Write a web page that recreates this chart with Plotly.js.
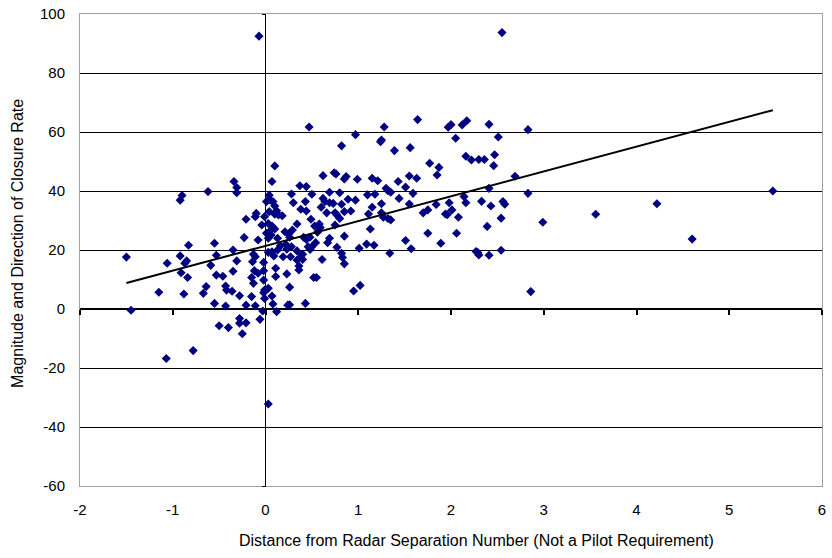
<!DOCTYPE html>
<html>
<head>
<meta charset="utf-8">
<script src="https://cdn.plot.ly/plotly-3.0.1.min.js"></script>
<style>html,body{margin:0;padding:0;background:#fff;}#chart{width:832px;height:558px;}</style>
</head>
<body>
<div id="chart"></div>
<script>
// Distance from radar separation number (x) and closure rate (y)
const distX = [
-1.50,-1.45,-1.07,-0.78,-1.15,-1.06,-0.92,-0.90,-0.92,-0.83,-0.85,-0.87,-0.91,-0.84,-0.88,
-0.62,-0.55,-0.53,-0.59,-0.53,-0.64,-0.67,-0.55,-0.50,-0.46,-0.43,-0.42,-0.43,-0.40,-0.36,
-0.35,-0.35,-0.31,-0.34,-0.31,-0.31,-0.23,-0.21,-0.28,-0.28,-0.28,-0.21,-0.25,-0.21,-0.15,
-0.13,-0.15,-0.11,-0.06,-0.03,-0.10,-0.11,-0.08,-0.13,-0.11,-0.14,-0.12,-0.08,-0.02,-0.02,
-0.02,-0.01,-0.01,-0.07,-0.02,-0.01,-0.04,
0.10,0.07,0.04,0.05,0.01,0.08,0.10,0.12,0.04,0.10,0.14,0.18,0.03,0.07,0.10,0.04,0.01,0.06,
0.13,0.03,0.21,0.25,0.26,0.29,0.34,0.28,0.30,0.37,0.44,0.43,0.50,0.38,0.44,0.49,0.62,0.74,
0.76,0.85,0.87,0.62,0.64,0.69,0.60,0.66,0.73,0.75,0.80,0.82,0.77,0.85,0.89,0.80,0.53,0.59,
0.56,0.48,0.44,0.41,0.54,0.50,0.46,0.48,0.69,0.67,0.75,0.77,0.85,0.82,0.83,0.85,0.61,0.22,
0.28,0.23,0.16,0.13,0.07,0.03,0.09,0.19,0.27,0.34,0.34,0.38,0.40,0.36,0.36,0.40,0.52,0.55,
0.11,0.03,0.07,0.11,0.23,0.26,0.08,0.12,0.24,0.26,0.43,0.03,0.47,0.97,1.28,1.64,1.97,2.00,
2.05,2.12,0.82,1.24,1.25,1.39,1.56,1.77,1.87,1.85,0.99,1.15,1.21,1.43,1.55,1.63,1.51,1.59,
1.30,1.32,1.35,1.44,1.55,1.10,1.18,1.25,1.15,0.97,0.69,0.92,0.58,0.95,1.02,1.01,1.09,1.17,
1.13,1.11,1.25,1.27,1.32,1.35,1.34,1.51,1.57,1.75,1.70,1.75,1.84,1.89,1.94,1.96,2.01,2.08,
2.06,2.17,2.41,2.83,2.51,2.16,2.22,2.30,2.36,2.47,2.46,2.69,2.41,2.83,1.98,2.14,2.16,2.33,
2.43,2.56,2.58,2.54,2.39,2.27,2.29,2.30,2.41,2.54,2.99,2.86,3.56,4.22,4.60,5.47,2.55
];
const closureY = [
17.6,-0.4,-16.8,-14.1,5.7,15.5,36.9,38.5,18.0,21.6,16.3,15.5,12.3,10.7,5.1,
39.8,22.3,18.2,14.8,11.5,7.6,5.3,1.9,-5.7,11.1,7.8,6.4,1.0,-6.3,6.0,
12.8,20.0,16.3,43.2,41.2,39.4,24.2,30.4,4.5,-3.2,-4.8,-4.7,-8.4,1.3,10.7,
8.7,4.2,1.1,-3.5,-0.7,32.4,31.3,23.4,18.6,17.7,16.0,13.0,12.1,15.8,13.0,
5.5,3.6,31.3,92.5,9.8,6.4,28.5,
48.5,43.2,38.6,36.9,36.4,36.4,34.9,33.3,33.0,32.1,31.9,31.6,29.0,28.1,27.1,26.2,25.7,25.1,
24.0,24.0,26.2,25.4,24.3,26.8,28.8,39.0,36.0,41.8,41.5,36.4,38.9,33.8,33.2,30.4,45.2,46.2,
45.8,44.1,44.9,37.5,36.4,36.0,34.5,32.6,35.8,32.6,39.4,35.5,31.9,33.0,37.2,30.7,28.1,27.6,
26.0,24.3,23.6,24.3,22.5,21.1,21.1,20.2,24.0,22.5,28.5,20.9,24.7,18.9,17.5,15.3,16.8,21.9,
21.1,20.3,21.4,20.0,19.4,19.2,18.0,17.7,17.7,19.7,16.6,17.7,18.6,14.6,13.2,16.8,10.7,10.7,
13.8,7.0,4.4,11.0,11.9,7.4,1.7,-0.9,1.3,1.4,1.9,-32.2,61.7,59.1,61.7,64.2,61.6,62.5,
57.9,62.4,55.3,56.7,57.3,53.7,54.7,49.4,48.0,45.4,44.0,44.3,43.5,43.2,45.1,44.3,41.3,39.2,
40.9,40.1,39.6,37.5,35.6,38.7,38.9,35.7,34.5,36.9,39.6,33.2,28.8,6.1,8.0,20.6,22.0,21.6,
27.1,32.2,32.6,31.1,30.7,30.2,18.9,23.2,20.4,25.7,32.6,33.6,35.4,22.3,32.2,32.0,33.6,31.1,
25.7,63.8,62.6,60.8,58.3,51.8,50.5,50.7,50.7,52.3,48.6,45.0,40.9,39.2,36.0,38.1,36.0,36.5,
34.9,36.4,35.5,30.8,28.0,19.5,19.1,18.3,18.2,19.9,29.4,5.9,32.1,35.7,23.7,40.0,93.7
];
// Linear trendline
const trendSlope = 8.41;
const trendIntercept = 21.4;
const xTicks = [-2,-1,0,1,2,3,4,5,6];
const yTicks = [-60,-40,-20,0,20,40,60,80,100];
const xTitle = 'Distance from Radar Separation Number (Not a Pilot Requirement)';
const yTitle = 'Magnitude and Direction of Closure Rate';

const xMin = Math.min(...distX), xMax = Math.max(...distX);
const trendX = [xMin, xMax];
const trendY = trendX.map(v => trendSlope * v + trendIntercept);

const font = {family: 'Liberation Sans, Arial, sans-serif', color: '#000'};

const data = [
  {type: 'scatter', mode: 'markers', x: distX, y: closureY,
   marker: {symbol: 'diamond', size: 7, color: '#000080'}, hoverinfo: 'x+y'},
  {type: 'scatter', mode: 'lines', x: trendX, y: trendY, xaxis: 'x2', yaxis: 'y2',
   line: {color: '#000', width: 2}, hoverinfo: 'skip'}
];

const layout = {
  width: 832, height: 558,
  margin: {l: 80, r: 10, t: 14, b: 72},
  paper_bgcolor: '#fff', plot_bgcolor: '#fff',
  showlegend: false,
  font: Object.assign({size: 15}, font),
  xaxis: {
    range: [-2, 6], tickvals: xTicks, ticktext: xTicks.map(String),
    showgrid: false, zeroline: true, zerolinecolor: '#000', zerolinewidth: 1,
    showline: true, mirror: true, linecolor: '#a0a0a0', linewidth: 1,
    ticks: 'outside', ticklen: 10, tickcolor: 'rgba(0,0,0,0)',
    tickfont: Object.assign({size: 15}, font)
  },
  yaxis: {
    range: [-60, 100], tickvals: yTicks, ticktext: yTicks.map(String),
    showgrid: true, gridcolor: '#000', gridwidth: 1,
    zeroline: true, zerolinecolor: '#000', zerolinewidth: 2,
    showline: true, mirror: true, linecolor: '#a0a0a0', linewidth: 1,
    ticks: 'outside', ticklen: 11, tickcolor: 'rgba(0,0,0,0)',
    tickfont: Object.assign({size: 15}, font)
  },
  xaxis2: {
    overlaying: 'x', anchor: 'free', position: 0.375, side: 'bottom',
    range: [-2, 6], tickvals: xTicks, showticklabels: false,
    showgrid: false, zeroline: false, showline: false,
    ticks: 'outside', ticklen: 5, tickwidth: 2, tickcolor: '#000'
  },
  yaxis2: {
    overlaying: 'y', anchor: 'free', position: 0.25, side: 'left',
    range: [-60, 100], tickvals: yTicks, showticklabels: false,
    showgrid: false, zeroline: false, showline: false,
    ticks: 'outside', ticklen: 4, tickwidth: 1, tickcolor: '#000'
  },
  annotations: [
    {text: xTitle, xref: 'paper', yref: 'paper', x: 0.534, y: -0.1165,
     xanchor: 'center', yanchor: 'middle', showarrow: false,
     font: Object.assign({size: 16}, font)},
    {text: yTitle, xref: 'paper', yref: 'paper', x: -0.0836, y: 0.515,
     xanchor: 'center', yanchor: 'middle', textangle: -90, showarrow: false,
     font: Object.assign({size: 16}, font)}
  ]
};

Plotly.newPlot('chart', data, layout, {displayModeBar: false, staticPlot: true});
</script>
</body>
</html>
